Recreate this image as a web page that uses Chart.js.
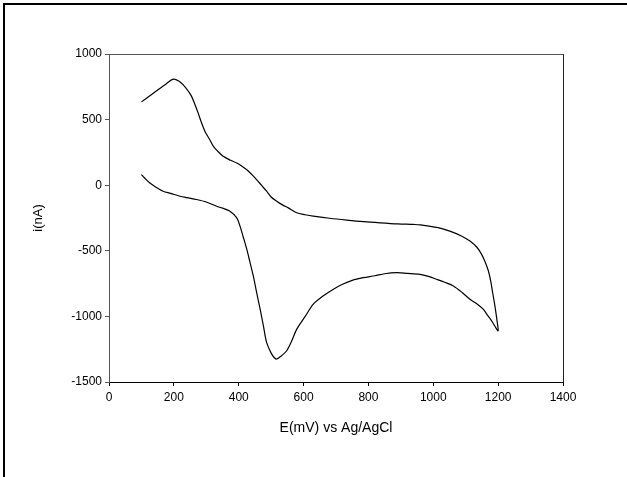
<!DOCTYPE html>
<html>
<head>
<meta charset="utf-8">
<script src="https://cdn.jsdelivr.net/npm/chart.js@4.4.1/dist/chart.umd.min.js"></script>
<style>
  html, body { margin: 0; padding: 0; background: #fff; }
  #wrap { position: relative; width: 627px; height: 477px; }
</style>
</head>
<body>
<div id="wrap"><canvas id="cv"></canvas></div>
<script>
// 전위 (mV) / 전류 (nA) - 정방향 스캔 (위쪽 곡선)
const upperE = [100, 125, 150, 175, 198, 215, 229, 245, 255, 265, 275, 285, 296, 310, 322, 337, 352, 375, 394, 410,
  425, 440, 455, 470, 486, 500, 517, 535, 553, 579, 605, 630, 680, 733, 785, 836, 890, 938, 960, 1015,
  1051, 1085, 1113, 1135, 1149, 1160, 1170, 1177, 1183, 1188, 1193, 1197, 1200];
const upperI = [635, 680, 725, 770, 808, 795, 764, 715, 675, 615, 549, 478, 410, 350, 296, 255, 220, 190, 169, 145,
  118, 82, 43, 0, -46, -90, -122, -150, -173, -210, -225, -236, -252, -266, -278, -287, -295, -299, -302, -324,
  -350, -385, -426, -475, -527, -585, -654, -730, -818, -890, -970, -1040, -1110];

// 역방향 스캔 (아래쪽 곡선)
const lowerE = [1200, 1190, 1180, 1167, 1154, 1135, 1113, 1090, 1062, 1035, 1010, 985, 959, 920, 887, 850, 820, 784,
  750, 720, 692, 660, 630, 605, 579, 563, 548, 532, 517, 510, 500, 486, 476, 466, 455, 445, 435, 425, 414,
  404, 394, 373, 350, 332, 300, 270, 240, 219, 190, 167, 145, 126, 110, 100];
const lowerI = [-1110, -1075, -1034, -990, -945, -905, -869, -820, -768, -740, -717, -695, -679, -672, -667, -675, -690, -705,
  -725, -755, -793, -845, -907, -1000, -1097, -1190, -1262, -1300, -1325, -1315, -1280, -1198, -1070, -945, -815, -692, -590, -489, -395,
  -312, -249, -198, -175, -160, -128, -109, -95, -84, -62, -46, -15, 17, 55, 81];

const xTitle = 'E(mV) vs Ag/AgCl';
const yTitle = 'i(nA)';

// 하나의 연속된 선으로 연결
const points = [];
upperE.forEach((e, k) => points.push({ x: e, y: upperI[k] }));
lowerE.forEach((e, k) => { if (k > 0) points.push({ x: e, y: lowerI[k] }); });

// 바깥 테두리 + 플롯 박스
const framePlugin = {
  id: 'frame',
  beforeDraw(chart) {
    const c = chart.ctx;
    c.save();
    c.fillStyle = '#fff';
    c.fillRect(0, 0, chart.width, chart.height);
    c.strokeStyle = '#000';
    c.lineWidth = 2;
    c.beginPath();
    c.moveTo(4, 477);
    c.lineTo(4, 4);
    c.lineTo(627, 4);
    c.stroke();
    c.restore();
  },
  afterDraw(chart) {
    const a = chart.chartArea;
    const c = chart.ctx;
    c.save();
    c.lineWidth = 1;
    c.strokeStyle = '#555';
    c.beginPath();
    c.moveTo(a.left, a.top + 0.5);
    c.lineTo(a.right + 0.5, a.top + 0.5);
    c.stroke();
    c.strokeStyle = '#222';
    c.beginPath();
    c.moveTo(a.right + 0.5, a.top);
    c.lineTo(a.right + 0.5, a.bottom);
    c.stroke();
    c.restore();
  }
};

const fontFamily = '"Liberation Sans", Arial, sans-serif';
const plain = v => String(v);

new Chart(document.getElementById('cv'), {
  type: 'scatter',
  data: {
    datasets: [{
      data: points,
      showLine: true,
      borderColor: '#000',
      borderWidth: 1.2,
      pointRadius: 0,
      tension: 0.3
    }]
  },
  options: {
    responsive: true,
    maintainAspectRatio: false,
    animation: false,
    layout: { padding: { left: 0, top: 54, right: 64, bottom: 0 } },
    plugins: { legend: { display: false }, tooltip: { enabled: false } },
    scales: {
      x: {
        type: 'linear',
        min: 0, max: 1400,
        afterFit(s) { s.height = 95; },
        ticks: { stepSize: 200, color: '#000', padding: 4, maxRotation: 0, callback: plain, font: { family: fontFamily, size: 12 } },
        grid: { drawOnChartArea: false, drawTicks: true, tickLength: 4, color: '#000' },
        border: { color: '#000', width: 1 },
        title: { display: true, text: xTitle, color: '#000', font: { family: fontFamily, size: 14 }, padding: { top: 0, bottom: 40 } }
      },
      y: {
        type: 'linear',
        min: -1500, max: 1000,
        afterFit(s) { s.width = 109; },
        ticks: { stepSize: 500, color: '#000', padding: 3, callback: plain, font: { family: fontFamily, size: 12 } },
        grid: { drawOnChartArea: false, drawTicks: true, tickLength: 4, color: '#555' },
        border: { color: '#555', width: 1 },
        title: { display: true, text: yTitle, color: '#000', font: { family: fontFamily, size: 13 }, padding: { top: 31, bottom: 0 } }
      }
    }
  },
  plugins: [framePlugin]
});
</script>
</body>
</html>
